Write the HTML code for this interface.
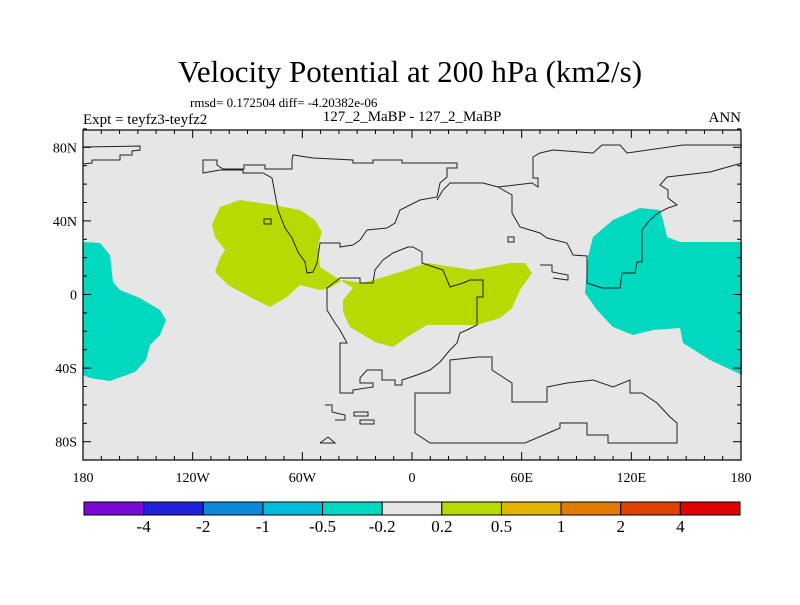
<!DOCTYPE html>
<html><head><meta charset="utf-8"><style>
body{margin:0;background:#fff}
svg text{font-family:"Liberation Serif",serif;fill:#000}
</style></head><body>
<svg width="800" height="600" viewBox="0 0 800 600">
<text x="410" y="82" font-size="31" text-anchor="middle">Velocity Potential at 200 hPa (km2/s)</text>
<text x="190" y="107" font-size="13">rmsd= 0.172504 diff= -4.20382e-06</text>
<text x="83" y="124" font-size="15">Expt = teyfz3-teyfz2</text>
<text x="412" y="121" font-size="15" text-anchor="middle">127_2_MaBP - 127_2_MaBP</text>
<text x="741" y="122" font-size="15" text-anchor="end">ANN</text>
<g id="map">
<rect x="83" y="130" width="658" height="330" fill="#e6e6e6"/>
<polygon fill="#b9da00" points="212,225 220,207 240,200 273,205 300,210 315,220 322,232 318,245 320,267 340,280 353,288 343,300 343,312 350,327 375,342 393,347 407,337 427,325 477,325 500,318 512,308 520,290 532,273 525,263 510,263 473,270 427,263 397,273 363,283 343,280 330,288 320,290 300,285 287,297 270,307 250,297 228,285 215,272 220,258 225,250 215,237"/>
<polygon fill="#00d9bf" points="588,257 593,237 613,220 640,208 660,210 663,220 667,237 680,242 742,242 742,375 710,360 683,343 680,328 653,330 633,335 613,327 597,310 585,293 587,270"/>
<polygon fill="#00d9bf" points="83,242 100,243 110,255 113,282 120,290 140,298 160,310 166,320 160,335 150,345 146,360 135,372 110,381 90,378 83,375"/>
<g fill="none" stroke="#222" stroke-width="1">
<polyline points="83,147 140,146 140,150 132,151 132,155 120,155 120,160 92,160 92,163 83,164"/>
<polygon points="203,160 217,160 217,165 223,169 244,169 244,165 265,165 265,169 292,169 292,160 293,155 313,158 353,160 353,163 373,163 373,160 402,160 402,163 457,163 457,168 447,168 447,177 440,183 437,197 420,200 400,210 395,223 387,228 367,230 360,240 353,245 340,247 340,243 320,243 317,263 313,272 307,273 305,262 298,252 292,238 285,228 278,210 272,178 263,173 243,173 243,170 220,170 203,173"/>
<polygon points="327,288 340,278 360,278 360,283 373,283 375,270 383,260 393,253 408,247 413,247 422,252 422,263 443,270 450,287 463,283 470,280 483,280 483,297 477,297 477,325 467,330 460,333 457,343 450,350 440,362 430,370 417,375 402,380 402,385 395,385 395,380 382,380 382,370 367,370 360,378 360,383 373,383 373,387 353,390 353,393 340,393 340,343 347,343 340,330 335,323 327,310"/>
<polygon points="450,360 478,357 492,357 492,370 512,383 512,402 547,402 547,387 567,383 593,380 613,387 630,380 630,393 642,393 657,403 670,417 677,423 677,443 608,443 608,435 587,435 587,423 560,423 560,428 525,443 430,443 415,433 415,393 450,393"/>
<polyline points="437,200 443,190 450,183 483,183 498,187 532,183 538,187 538,178 533,178 533,157 540,153 553,150 593,153 602,145 620,145 627,153 683,145 742,145"/>
<polyline points="498,187 512,195 512,213 520,227 540,233 547,238 567,243 573,255 587,256 587,283 602,288 620,288 622,273 635,273 637,262 642,262 642,230 650,220 658,213 668,208 677,205 668,198 668,190 660,185 667,177 710,172 742,163"/>
<polyline points="325,405 332,405 332,412 345,415 345,420 335,420"/>
<rect x="354" y="412" width="14" height="4"/><rect x="360" y="420" width="14" height="4"/>
<polyline points="320,443 328,437 335,443 320,443"/>
<rect x="264" y="219" width="7" height="5"/><rect x="508" y="237" width="6" height="5"/>
<polyline points="540,265 552,265 552,272 568,275 568,280 553,278"/>
</g>
<rect x="83" y="130" width="658" height="330" fill="none" stroke="#000" stroke-width="1.2"/>
<g id="ticks" stroke="#000" stroke-width="1"></g>
<g id="ticklabels" font-size="14"></g>
</g>
<g id="colorbar"></g>
</svg>
<script>
const lonTicks=[-180,-120,-60,0,60,120,180];
const lonLabels=["180","120W","60W","0","60E","120E","180"];
const latTicks=[80,40,0,-40,-80];
const latLabels=["80N","40N","0","40S","80S"];
const cbLevels=["-4","-2","-1","-0.5","-0.2","0.2","0.5","1","2","4"];
const cbColors=["#7a0ad8","#2121dc","#0a88dc","#00bcdc","#00d9bf","#e6e6e6","#b9da00","#e0b400","#e07d00","#e04000","#e00000"];
const ns="http://www.w3.org/2000/svg";
const x=lon=>83+(lon+180)*658/360;
const y=lat=>294.5-lat*1.84;
function mk(tag,attrs,parent){const e=document.createElementNS(ns,tag);for(const k in attrs)e.setAttribute(k,attrs[k]);parent.appendChild(e);return e;}
const tg=document.getElementById('ticks'),lg=document.getElementById('ticklabels');
for(let lon=-180;lon<=180;lon+=10){const L=lon%60===0?8:4;
 let t=mk('line',{x1:x(lon),x2:x(lon),y1:460,y2:460-L},tg);
 t=mk('line',{x1:x(lon),x2:x(lon),y1:130,y2:130+L},tg);}
for(let lat=-90;lat<=90;lat+=10){const L=lat%40===0?8:4;
 let t=mk('line',{x1:83,x2:83+L,y1:y(lat),y2:y(lat)},tg);
 t=mk('line',{x1:741,x2:741-L,y1:y(lat),y2:y(lat)},tg);}
lonTicks.forEach((v,i)=>{const t=mk('text',{x:x(v),y:482,'text-anchor':'middle'},lg);t.textContent=lonLabels[i];
 });
latTicks.forEach((v,i)=>{const t=mk('text',{x:77,y:y(v)+5,'text-anchor':'end'},lg);t.textContent=latLabels[i];
 });
const cb=document.getElementById('colorbar');const cx0=84,cw=656/cbColors.length;
cbColors.forEach((c,i)=>{const r=mk('rect',{x:cx0+i*cw,y:502,width:cw,height:13,fill:c,stroke:'#000','stroke-width':1},cb);
 });
cbLevels.forEach((s,i)=>{const t=mk('text',{x:cx0+(i+1)*cw,y:532,'text-anchor':'middle','font-size':17},cb);t.textContent=s;
 });
</script>
</body></html>
